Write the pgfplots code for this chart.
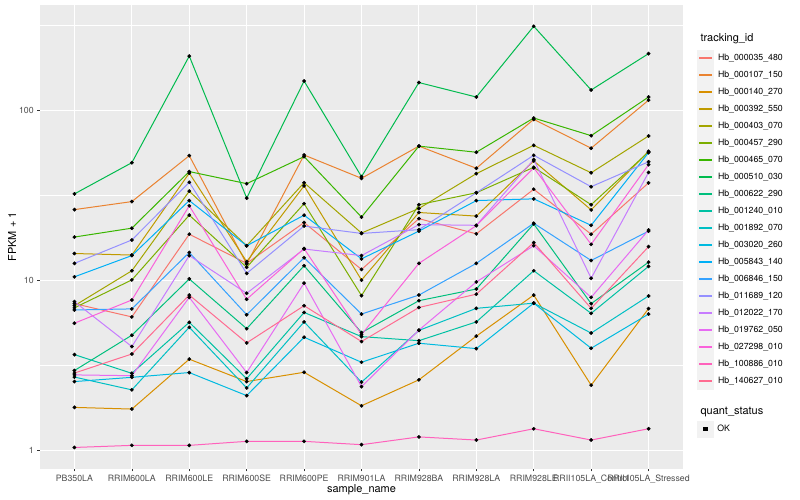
\documentclass[border=0pt]{standalone}
\usepackage{fontspec}
\setmainfont{TeX Gyre Heros}
\usepackage{pgfplots}
\usepackage{pgfplotstable}
\pgfplotsset{compat=1.18}

\definecolor{c1}{HTML}{F8766D}
\definecolor{c2}{HTML}{EA8331}
\definecolor{c3}{HTML}{D89000}
\definecolor{c4}{HTML}{C09B00}
\definecolor{c5}{HTML}{A3A500}
\definecolor{c6}{HTML}{7CAE00}
\definecolor{c7}{HTML}{39B600}
\definecolor{c8}{HTML}{00BB4E}
\definecolor{c9}{HTML}{00BF7D}
\definecolor{c10}{HTML}{00C1A3}
\definecolor{c11}{HTML}{00BFC4}
\definecolor{c12}{HTML}{00BAE0}
\definecolor{c13}{HTML}{00B0F6}
\definecolor{c14}{HTML}{35A2FF}
\definecolor{c15}{HTML}{9590FF}
\definecolor{c16}{HTML}{C77CFF}
\definecolor{c17}{HTML}{E76BF3}
\definecolor{c18}{HTML}{FA62DB}
\definecolor{c19}{HTML}{FF62BC}
\definecolor{c20}{HTML}{FF6C91}
\definecolor{panelbg}{HTML}{EBEBEB}
\definecolor{keybg}{HTML}{F2F2F2}
\definecolor{ticktext}{HTML}{4D4D4D}
\definecolor{tickline}{HTML}{333333}

% FPKM + 1 per sample (rows) and transcript (columns s1..s20)
\pgfplotstableread{
x s1 s2 s3 s4 s5 s6 s7 s8 s9 s10 s11 s12 s13 s14 s15 s16 s17 s18 s19 s20
0 7.3 26.1 1.79 14.4 7.1 6.9 18.0 32.3 2.95 3.66 2.7 2.54 10.5 6.7 12.6 7.5 2.78 5.6 1.04 2.85
1 6.1 29.1 1.75 14.1 11.4 10.07 20.3 49.3 4.76 2.84 2.27 2.69 14.0 6.8 17.3 4.08 2.75 7.67 1.07 3.69
2 18.7 54.2 3.44 42.8 33.5 24.2 43.7 209 10.2 5.67 5.3 2.87 29.5 14.6 37.8 14.0 7.95 27.5 1.07 8.2
3 12.6 12.5 2.54 12.9 16.0 11.95 37.1 30.5 5.2 2.64 2.33 2.1 16.0 6.28 11.0 8.4 2.87 7.75 1.13 4.29
4 21.9 54.7 2.88 36 37.6 28.3 53.5 149 12.2 6.48 5.7 4.63 24.2 13.6 20.9 15.3 9.64 15.4 1.13 7.1
5 11.6 39.9 1.83 10.05 19.0 8.14 23.6 40.8 4.93 4.67 2.52 3.3 13.4 6.34 18.9 14.0 2.37 4.8 1.08 4.37
6 23.1 61.7 2.6 25.1 26.5 27.9 61.7 146 7.6 4.42 5.08 4.27 19.5 8.2 19.9 21.3 5.1 12.6 1.2 6.93
7 18.8 45.7 4.7 23.9 42.5 32.8 56.8 120 8.9 5.7 6.85 3.97 29.5 12.6 32.8 21.1 9.8 21 1.15 8.3
8 34.4 88.7 8.2 50.5 62.4 46.3 90.3 313 21.5 11.4 7.35 7.35 30.2 21.7 54.5 51.4 16.0 46 1.34 16.7
9 18.7 60 2.42 26 43 27.9 71.1 132 7.3 6.4 4.9 3.99 21.1 13.1 35.6 10.3 7.95 16.3 1.15 6.85
10 37.5 115 6.82 57.5 70.8 57 120 216 12.8 12.1 8.1 6.34 56.5 19.5 49.9 43.2 19.8 48 1.34 15.8
}\data

\begin{document}
\begin{tikzpicture}
\fill[white] (-40bp,-31.3bp) rectangle (760bp,468.7bp);
\useasboundingbox (-40bp,-31.3bp) rectangle (760bp,468.7bp);

\begin{axis}[
at={(0,0)}, anchor=south west,
scale only axis,
width=643bp, height=463.6bp,
xmin=-0.6, xmax=10.6,
ymode=log, ymin=0.78, ymax=417,
axis background/.style={fill=panelbg},
axis line style={draw=none},
xtick={0,...,10},
xticklabels={PB350LA,RRIM600LA,RRIM600LE,RRIM600SE,RRIM600PE,RRIM901LA,RRIM928BA,RRIM928LA,RRIM928LE,RRII105LA\_Control,RRII105LA\_Stressed},
ytick={1,10,100},
yticklabels={1,10,100},
minor ytick={3.1623,31.623,316.23},
grid=both,
major grid style={white, line width=1.07bp},
minor grid style={white, line width=0.53bp},
tick align=outside,
tick pos=left,
major tick length=2.74bp,
minor tick length=0pt,
tick style={tickline, line width=0.53bp},
ticklabel style={font=\fontsize{8.8}{10}\selectfont, text=ticktext},
/pgf/number format/assume math mode=true,
xlabel={sample\_name},
ylabel={FPKM + 1},
label style={font=\fontsize{11}{13}\selectfont},
xlabel style={at={(axis description cs:0.5,0)}, anchor=center, yshift=-21bp},
ylabel style={at={(axis description cs:-0.0435,0.5)}, anchor=center},
legend style={at={(1,1)}, anchor=north west, xshift=14bp, yshift=-44.7bp,
  draw=none, fill=none, inner sep=0pt, outer sep=0pt,
  row sep=0bp, column sep=4bp,
  font=\fontsize{8.8}{10}\selectfont,
  nodes={inner sep=0pt, text height=6.3bp, text depth=1.8bp}},
legend cell align=left,
legend image code/.code={
  \fill[keybg] (0bp,-8bp) rectangle (16bp,8bp);
  \draw[line width=1.8bp] (1.5bp,0bp) -- (14.5bp,0bp);
},
legend entries={Hb\_000035\_480,Hb\_000107\_150,Hb\_000140\_270,Hb\_000392\_550,Hb\_000403\_070,Hb\_000457\_290,Hb\_000465\_070,Hb\_000510\_030,Hb\_000622\_290,Hb\_001240\_010,Hb\_001892\_070,Hb\_003020\_260,Hb\_005843\_140,Hb\_006846\_150,Hb\_011689\_120,Hb\_012022\_170,Hb\_019762\_050,Hb\_027298\_010,Hb\_100886\_010,Hb\_140627\_010},
]
\pgfplotsinvokeforeach{1,...,20}{
  \addplot[c#1, line width=1bp, no marks] table[x=x, y=s#1] {\data};
}
\pgfplotsinvokeforeach{1,...,20}{
  \addplot[forget plot, only marks, mark=*, mark size=1.7bp, mark options={fill=black, draw=black}] table[x=x, y=s#1] {\data};
}
\end{axis}

\begin{axis}[
at={(0,0)}, anchor=south west,
scale only axis, hide axis,
width=643bp, height=463.6bp,
xmin=0, xmax=1, ymin=0, ymax=1,
legend style={at={(1,0)}, anchor=north west, xshift=14bp, yshift=48bp,
  draw=none, fill=none, inner sep=0pt, outer sep=0pt,
  column sep=4bp,
  font=\fontsize{8.8}{10}\selectfont,
  nodes={inner sep=0pt, text height=6.3bp, text depth=1.8bp}},
legend image code/.code={
  \fill[keybg] (0bp,-8bp) rectangle (16bp,8bp);
  \fill[black] (6.3bp,-1.7bp) rectangle (9.7bp,1.7bp);
},
]
\addlegendimage{black}
\addlegendentry{OK}
\end{axis}

\node[anchor=west, font=\fontsize{11}{13}\selectfont] at (657bp,430bp) {tracking\_id};
\node[anchor=west, font=\fontsize{11}{13}\selectfont] at (657bp,57bp) {quant\_status};
\end{tikzpicture}
\end{document}
